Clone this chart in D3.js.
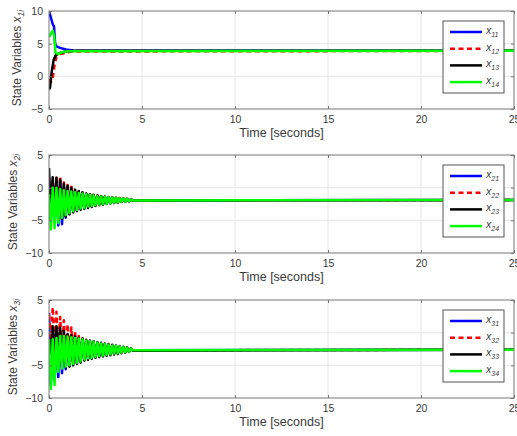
<!DOCTYPE html>
<html>
<head>
<meta charset="utf-8">
<script src="https://cdn.jsdelivr.net/npm/d3@7"></script>
<style>
  body { margin: 0; background: #fff; }
  svg { font-family: "Liberation Sans", Arial, sans-serif; }
  .tick text { fill: #3a3a3a; font-size: 10.5px; }
</style>
</head>
<body>
<svg id="chart" width="517" height="436"></svg>
<script>
// time axis ticks
const xTicks = [0, 5, 10, 15, 20, 25];

// panel 1: smooth convergence, each series has its own sample times
const t11 = [0, 0.1, 0.2, 0.27, 0.33, 0.4, 0.6, 0.9, 1.3, 25];
const x11 = [10, 9.0, 8.0, 7.6, 5.0, 4.6, 4.35, 4.1, 3.95, 3.9];
const t12 = [0, 0.1, 0.2, 0.3, 0.4, 0.6, 0.85, 1.2, 25];
const x12 = [-0.4, -0.9, -0.3, 1.8, 3.0, 3.4, 3.55, 3.8, 3.9];
const t13 = [0, 0.05, 0.15, 0.25, 0.35, 0.6, 1.0, 1.5, 25];
const x13 = [-2.0, -1.8, 0.8, 2.5, 3.2, 3.6, 3.85, 3.9, 3.9];
const t14 = [0, 0.1, 0.2, 0.28, 0.35, 0.5, 0.7, 1.0, 25];
const x14 = [6.0, 6.5, 7.0, 6.2, 3.6, 3.4, 3.7, 3.85, 3.9];

// panels 2 and 3: oscillating, sampled at the peaks/troughs
const tOsc = [0, 0.1, 0.2, 0.3, 0.4, 0.5, 0.6, 0.7, 0.8, 0.9,
  1.0, 1.1, 1.2, 1.3, 1.4, 1.5, 1.6, 1.7, 1.8, 1.9,
  2.0, 2.1, 2.2, 2.3, 2.4, 2.5, 2.6, 2.7, 2.8, 2.9,
  3.0, 3.1, 3.2, 3.3, 3.4, 3.5, 3.6, 3.7, 3.8, 3.9,
  4.0, 4.1, 4.2, 4.3, 4.4, 4.5, 25];

const x21 = [0.5, -3.0, 0.8, -4.5, 1.0, -5.8, 1.0, -5.6, 0.2, -4.6,
  -0.2, -4.0, -0.5, -3.6, -0.7, -3.4, -0.8, -3.2, -0.9, -3.05,
  -1.0, -2.9, -1.1, -2.8, -1.2, -2.65, -1.3, -2.55, -1.35, -2.5,
  -1.4, -2.4, -1.5, -2.35, -1.55, -2.3, -1.6, -2.2, -1.65, -2.15,
  -1.7, -2.1, -1.75, -2.05, -1.8, -1.95, -1.9];
const x22 = [0.5, -2.0, 1.2, -3.0, 1.5, -4.0, 1.8, -4.2, 0.8, -4.0,
  0.4, -3.7, 0.5, -3.5, -0.4, -3.3, -0.6, -3.1, -0.8, -3.0,
  -0.95, -2.85, -1.05, -2.75, -1.15, -2.65, -1.25, -2.55, -1.3, -2.5,
  -1.4, -2.4, -1.45, -2.35, -1.5, -2.3, -1.55, -2.25, -1.6, -2.2,
  -1.65, -2.15, -1.7, -2.1, -1.8, -1.95, -1.9];
const x23 = [3.0, -4.0, 1.6, -4.5, 1.5, -5.0, 1.2, -4.8, 0.6, -4.4,
  0.3, -4.1, 0.0, -3.8, -0.3, -3.6, -0.5, -3.4, -0.7, -3.25,
  -0.9, -3.1, -1.0, -2.95, -1.1, -2.8, -1.2, -2.7, -1.3, -2.6,
  -1.4, -2.5, -1.45, -2.4, -1.5, -2.35, -1.55, -2.3, -1.6, -2.2,
  -1.65, -2.15, -1.7, -2.1, -1.8, -1.95, -1.9];
const x24 = [-1.0, -6.4, 0.0, -6.2, 0.0, -5.4, -0.2, -4.6, -0.4, -4.2,
  -0.5, -3.9, -0.6, -3.6, -0.7, -3.4, -0.8, -3.2, -0.9, -3.1,
  -1.0, -2.9, -1.1, -2.8, -1.2, -2.7, -1.3, -2.6, -1.35, -2.5,
  -1.4, -2.45, -1.45, -2.4, -1.5, -2.3, -1.55, -2.25, -1.6, -2.2,
  -1.65, -2.15, -1.7, -2.1, -1.8, -1.95, -1.9];

const x31 = [3.0, -8.0, -1.5, -7.2, -1.2, -6.8, -1.0, -6.2, -0.9, -5.6,
  -0.9, -5.1, -1.0, -4.7, -1.1, -4.5, -1.2, -4.3, -1.3, -4.0,
  -1.4, -3.9, -1.5, -3.8, -1.6, -3.65, -1.7, -3.55, -1.8, -3.45,
  -1.9, -3.35, -2.0, -3.25, -2.05, -3.15, -2.15, -3.1, -2.2, -3.0,
  -2.25, -2.95, -2.35, -2.85, -2.5, -2.7, -2.6];
const x32 = [2.8, -1.0, 3.9, -2.0, 3.2, -2.5, 2.4, -3.0, 1.9, -3.2,
  1.3, -3.4, 0.8, -3.6, 0.2, -3.7, -0.5, -3.8, -0.9, -3.8,
  -1.2, -3.7, -1.35, -3.6, -1.45, -3.5, -1.6, -3.4, -1.7, -3.35,
  -1.8, -3.25, -1.9, -3.2, -2.0, -3.1, -2.1, -3.05, -2.15, -3.0,
  -2.25, -2.95, -2.35, -2.85, -2.5, -2.7, -2.6];
const x33 = [-1.0, -3.0, 1.0, -3.5, 1.0, -4.0, 0.8, -4.8, 0.3, -5.3,
  -0.2, -5.2, -0.4, -5.0, -0.6, -4.8, -0.8, -4.6, -0.9, -4.3,
  -1.1, -4.15, -1.2, -4.0, -1.3, -3.85, -1.45, -3.75, -1.55, -3.65,
  -1.65, -3.55, -1.75, -3.45, -1.85, -3.35, -1.95, -3.25, -2.05, -3.15,
  -2.15, -3.05, -2.25, -2.95, -2.4, -2.75, -2.6];
const x34 = [-1.0, -8.6, -1.0, -8.0, -0.8, -6.0, -0.5, -5.5, -0.5, -5.2,
  -0.6, -5.0, -0.7, -4.8, -0.8, -4.6, -0.9, -4.4, -1.0, -4.1,
  -1.2, -3.95, -1.3, -3.85, -1.4, -3.7, -1.55, -3.6, -1.65, -3.5,
  -1.75, -3.4, -1.85, -3.3, -1.95, -3.2, -2.05, -3.15, -2.1, -3.05,
  -2.2, -3.0, -2.3, -2.9, -2.45, -2.7, -2.6];

const colors = ['#0000ff', '#ff0000', '#000000', '#00ff00'];
const dashes = [null, '5,3.5', null, null];

const panels = [
  { row: '1', top: 11, domain: [-5, 10], ticks: [-5, 0, 5, 10], labelX: 17,
    series: [[t11, x11], [t12, x12], [t13, x13], [t14, x14]] },
  { row: '2', top: 155, domain: [-10, 5], ticks: [-10, -5, 0, 5], labelX: 13,
    series: [[tOsc, x21], [tOsc, x22], [tOsc, x23], [tOsc, x24]] },
  { row: '3', top: 300, domain: [-10, 5], ticks: [-10, -5, 0, 5], labelX: 13,
    series: [[tOsc, x31], [tOsc, x32], [tOsc, x33], [tOsc, x34]] }
];

const svg = d3.select('#chart');
const left = 49, right = 514, h = 98;
const x = d3.scaleLinear().domain([0, 25]).range([left, right]);

panels.forEach((p, pi) => {
  const bottom = p.top + h;
  const y = d3.scaleLinear().domain(p.domain).range([bottom, p.top]);
  const g = svg.append('g');

  // grid
  g.append('g').selectAll('line').data(xTicks.slice(1, -1)).enter().append('line')
    .attr('x1', d => x(d)).attr('x2', d => x(d)).attr('y1', p.top).attr('y2', bottom)
    .attr('stroke', '#e6e6e6');
  g.append('g').selectAll('line').data(p.ticks.slice(1, -1)).enter().append('line')
    .attr('y1', d => y(d)).attr('y2', d => y(d)).attr('x1', left).attr('x2', right)
    .attr('stroke', '#e6e6e6');

  // lines
  const clipId = 'clip' + pi;
  svg.append('clipPath').attr('id', clipId).append('rect')
    .attr('x', left).attr('y', p.top).attr('width', right - left).attr('height', h);
  const line = d3.line().x(d => x(d[0])).y(d => y(d[1]));
  p.series.forEach((s, i) => {
    const pts = s[0].map((t, k) => [t, s[1][k]]);
    g.append('path').attr('d', line(pts)).attr('clip-path', `url(#${clipId})`)
      .attr('fill', 'none').attr('stroke', colors[i]).attr('stroke-width', 2.5)
      .attr('stroke-linejoin', 'round')
      .attr('stroke-dasharray', dashes[i]);
  });

  // axes, ticks pointing inward
  g.append('g').attr('transform', `translate(0,${bottom})`)
    .call(d3.axisBottom(x).tickValues(xTicks).tickSize(-3).tickPadding(7))
    .call(a => a.select('.domain').remove())
    .call(a => a.selectAll('line').attr('stroke', '#777'));
  g.append('g').attr('transform', `translate(0,${p.top})`)
    .call(d3.axisTop(x).tickValues(xTicks).tickSize(-3).tickFormat(''))
    .call(a => a.select('.domain').remove())
    .call(a => a.selectAll('line').attr('stroke', '#777'));
  g.append('g').attr('transform', `translate(${left},0)`)
    .call(d3.axisLeft(y).tickValues(p.ticks).tickSize(-3).tickPadding(6))
    .call(a => a.select('.domain').remove())
    .call(a => a.selectAll('line').attr('stroke', '#777'));
  g.append('g').attr('transform', `translate(${right},0)`)
    .call(d3.axisRight(y).tickValues(p.ticks).tickSize(-3).tickFormat(''))
    .call(a => a.select('.domain').remove())
    .call(a => a.selectAll('line').attr('stroke', '#777'));

  g.append('rect').attr('x', left).attr('y', p.top).attr('width', right - left).attr('height', h)
    .attr('fill', 'none').attr('stroke', '#777');

  // axis labels
  g.append('text').attr('x', (left + right) / 2).attr('y', bottom + 28)
    .attr('text-anchor', 'middle').attr('font-size', 12.5).attr('fill', '#3a3a3a')
    .text('Time [seconds]');
  const yl = g.append('text')
    .attr('transform', `translate(${p.labelX + 4},${p.top + h / 2 - 2}) rotate(-90)`)
    .attr('text-anchor', 'middle').attr('font-size', 12).attr('fill', '#3a3a3a');
  yl.append('tspan').text('State Variables ');
  yl.append('tspan').attr('font-style', 'italic').text('x');
  yl.append('tspan').attr('font-style', 'italic').attr('font-size', 8.5).attr('dy', 3)
    .text(p.row + 'i');

  // legend
  const lg = g.append('g').attr('transform', `translate(443,${p.top + 10})`);
  lg.append('rect').attr('width', 61).attr('height', 72)
    .attr('fill', '#fff').attr('stroke', '#555');
  colors.forEach((c, i) => {
    const ly = 11 + i * 16.7;
    lg.append('line').attr('x1', 7).attr('x2', 39).attr('y1', ly).attr('y2', ly)
      .attr('stroke', c).attr('stroke-width', 2.5).attr('stroke-dasharray', dashes[i]);
    const lt = lg.append('text').attr('x', 43).attr('y', ly + 2)
      .attr('font-size', 10.5).attr('font-style', 'italic').attr('fill', '#3a3a3a');
    lt.append('tspan').text('x');
    lt.append('tspan').attr('font-size', 7).attr('dy', 3).text(p.row + (i + 1));
  });
});
</script>
</body>
</html>
